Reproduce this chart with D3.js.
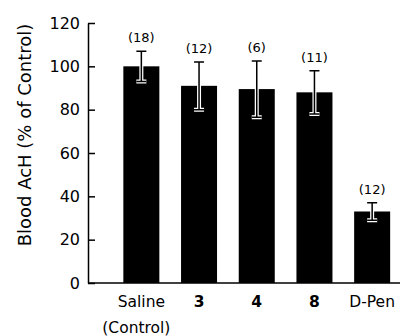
<!DOCTYPE html>
<html>
<head>
<meta charset="utf-8">
<script src="https://cdn.jsdelivr.net/npm/d3@7"></script>
<style>
  html, body { margin: 0; padding: 0; background: #fff; }
  svg { display: block; }
  text { font-family: 'DejaVu Sans', sans-serif; fill: #000; }
</style>
</head>
<body>
<script>
/* global d3 */
(function () {
  'use strict'

  var categories = ['Saline', '3', '4', '8', 'D-Pen']
  var means = [100, 91, 89.5, 88, 33]
  var errors = [7, 11, 13, 10, 4]
  var counts = ['(18)', '(12)', '(6)', '(11)', '(12)']
  var yTicks = [0, 20, 40, 60, 80, 100, 120]

  var dim = { w: 408, h: 336 }

  var svg = d3.select('body').append('svg')
    .attr('width', dim.w)
    .attr('height', dim.h)

  var x = d3.scaleBand().domain(categories)
    .range([112.5, 401])
    .paddingInner(0.376).paddingOuter(0.188)
  var y = d3.scaleLinear().domain([0, 120]).range([283, 23])

  // y axis, ticks pointing inward
  var yAxis = d3.axisLeft(y).tickValues(yTicks)
    .tickSizeInner(-7).tickSizeOuter(0).tickPadding(8)
  var gy = svg.append('g')
    .attr('transform', 'translate(88,0)')
    .call(yAxis)
  gy.select('.domain').attr('stroke', '#000').attr('stroke-width', 1.5)
  gy.selectAll('.tick line').attr('stroke', '#000').attr('stroke-width', 1.5)
  gy.selectAll('.tick text')
    .style('font-family', "'DejaVu Sans', sans-serif")
    .style('font-size', '16px')
    .attr('fill', '#000')

  // baseline
  svg.append('line')
    .attr('x1', 88).attr('x2', 400)
    .attr('y1', y(0)).attr('y2', y(0))
    .attr('stroke', '#000').attr('stroke-width', 1.5)

  // y title
  svg.append('text')
    .attr('transform', 'translate(31,' + 135 + ') rotate(-90)')
    .attr('text-anchor', 'middle')
    .style('font-size', '18px')
    .text('Blood AcH (% of Control)')

  var bars = svg.append('g').selectAll('g.bar')
    .data(categories)
    .enter().append('g')
    .attr('class', 'bar')

  bars.append('rect')
    .attr('x', function (d) { return x(d) })
    .attr('width', x.bandwidth())
    .attr('y', function (d, i) { return y(means[i]) })
    .attr('height', function (d, i) { return y(0) - y(means[i]) })
    .attr('fill', '#000')

  // error bars: white halo then black line so they show inside the bar
  function errPath (d, i) {
    var cx = x(d) + x.bandwidth() / 2
    var top = y(means[i] + errors[i])
    var bot = y(means[i] - errors[i])
    return 'M' + (cx - 5) + ',' + top + 'H' + (cx + 5) +
      'M' + cx + ',' + top + 'V' + bot +
      'M' + (cx - 5) + ',' + bot + 'H' + (cx + 5)
  }

  bars.append('path')
    .attr('d', errPath)
    .attr('fill', 'none')
    .attr('stroke', '#fff')
    .attr('stroke-width', 4)

  bars.append('path')
    .attr('d', errPath)
    .attr('fill', 'none')
    .attr('stroke', '#000')
    .attr('stroke-width', 1.5)

  bars.append('text')
    .attr('x', function (d) { return x(d) + x.bandwidth() / 2 })
    .attr('y', function (d, i) { return y(means[i] + errors[i]) - 9 })
    .attr('text-anchor', 'middle')
    .style('font-size', '13px')
    .text(function (d, i) { return counts[i] })

  // category labels
  bars.append('text')
    .attr('x', function (d) { return x(d) + x.bandwidth() / 2 })
    .attr('y', 307)
    .attr('text-anchor', 'middle')
    .style('font-size', '15.5px')
    .style('font-weight', function (d) { return /^\d+$/.test(d) ? 'bold' : 'normal' })
    .text(function (d) { return d })

  svg.append('text')
    .attr('x', x('Saline') + x.bandwidth() / 2 - 5)
    .attr('y', 333)
    .attr('text-anchor', 'middle')
    .style('font-size', '15.5px')
    .text('(Control)')
}())
</script>
</body>
</html>
